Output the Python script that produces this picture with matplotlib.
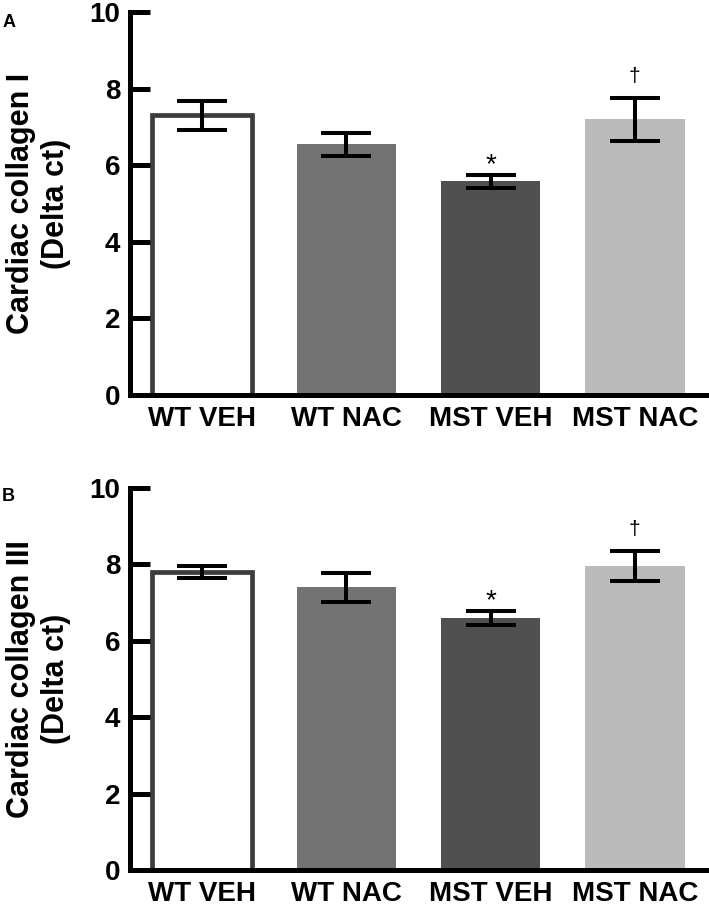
import matplotlib.pyplot as plt

# Group labels and bar colours
groups = ['WT VEH', 'WT NAC', 'MST VEH', 'MST NAC']
fill_colors = ['white', '#737373', '#505050', '#bbbbbb']

# Panel A: collagen I (mean, SEM)
col1_mean = [7.30, 6.55, 5.58, 7.20]
col1_err = [0.38, 0.30, 0.17, 0.56]

# Panel B: collagen III (mean, SEM)
col3_mean = [7.80, 7.40, 6.60, 7.95]
col3_err = [0.16, 0.38, 0.18, 0.40]

# significance marks above bars
marks = ['', '', '*', '\u2020']

plt.rcParams['font.family'] = ['Liberation Sans', 'DejaVu Sans']
plt.rcParams['font.weight'] = 'bold'

fig = plt.figure(figsize=(7.09, 9.10), dpi=100)
ax_a = fig.add_axes([0.1834, 0.5659, 0.8136, 0.4209])
ax_b = fig.add_axes([0.1834, 0.0440, 0.8136, 0.4200])


def draw_panel(ax, means, errs, ylabel):
    x = list(range(len(groups)))
    edges = ['#3c3c3c', 'none', 'none', 'none']
    lws = [3.4, 0, 0, 0]
    ax.bar(x, means, width=0.69, color=fill_colors, edgecolor=edges,
           linewidth=lws, zorder=1)
    ax.errorbar(x, means, yerr=errs, fmt='none', ecolor='black',
                elinewidth=2.9, capsize=18, capthick=2.9, zorder=3)
    for xi, m, e, mk in zip(x, means, errs, marks):
        if mk == '*':
            ax.text(xi, m + e + 0.08, mk, ha='center', va='baseline',
                    fontsize=20, fontweight='normal')
        elif mk:
            ax.text(xi, m + e + 0.42, mk, ha='center', va='baseline',
                    fontsize=15, fontweight='normal')

    ax.set_xlim(-0.5, 3.5)
    ax.set_ylim(0, 10)
    ax.set_yticks([0, 2, 4, 6, 8, 10])
    ax.set_xticks(x)
    ax.set_xticklabels(groups, fontsize=20, fontweight='bold')
    ax.tick_params(axis='y', direction='in', length=14.5, width=3.6,
                   labelsize=20, pad=7)
    ax.tick_params(axis='x', length=0, pad=8)
    for lab in ax.get_yticklabels():
        lab.set_fontweight('bold')

    for side in ['top', 'right']:
        ax.spines[side].set_visible(False)
    for side in ['left', 'bottom']:
        ax.spines[side].set_linewidth(3.6)
        ax.spines[side].set_zorder(4)

    ax.set_ylabel(ylabel, fontsize=22, fontweight='bold',
                  linespacing=1.25, labelpad=13)


draw_panel(ax_a, col1_mean, col1_err, 'Cardiac collagen I\n(Delta ct)')
draw_panel(ax_b, col3_mean, col3_err, 'Cardiac collagen III\n(Delta ct)')

fig.text(0.003, 0.985, 'A', fontsize=13, fontweight='bold', va='top')
fig.text(0.003, 0.464, 'B', fontsize=13, fontweight='bold', va='top')

fig.savefig('out.png', dpi=100)
